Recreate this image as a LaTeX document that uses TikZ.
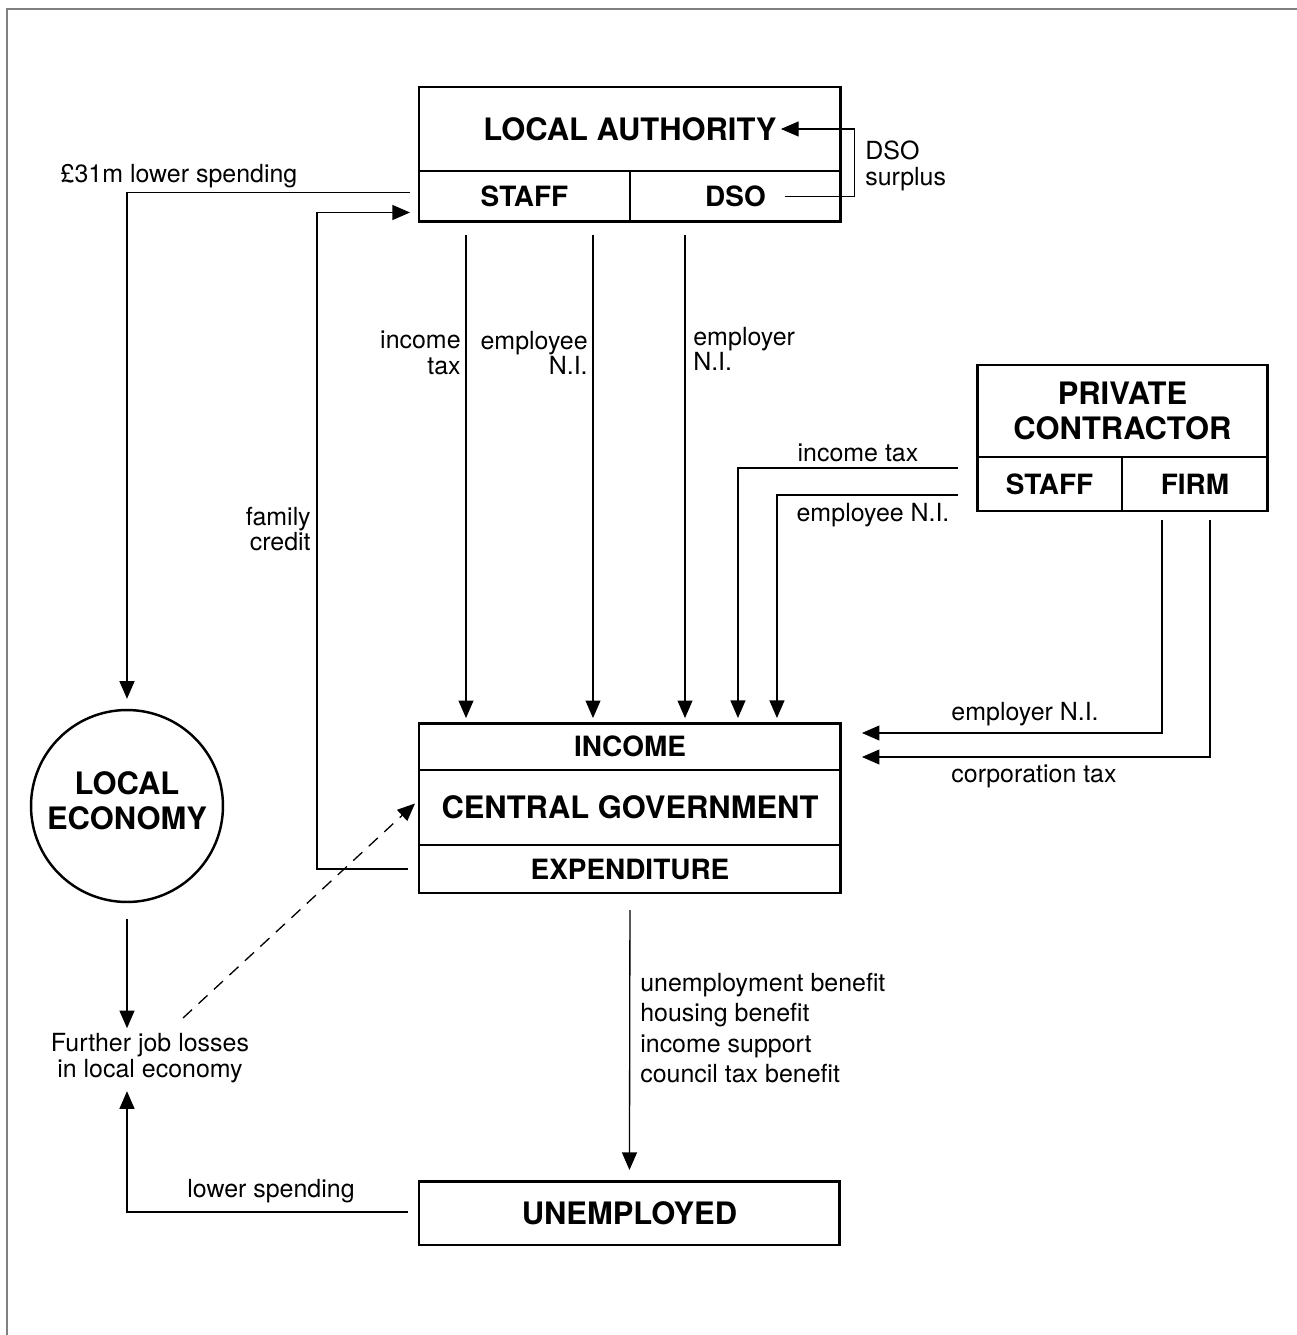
\documentclass[tikz,border=0pt]{standalone}
\usepackage{fontspec}
\setmainfont{TeX Gyre Heros}
\usetikzlibrary{arrows.meta,calc}

\newcommand{\bigbold}{\fontsize{17.6}{19.8}\selectfont\bfseries}
\newcommand{\midbold}{\fontsize{15.9}{17}\selectfont\bfseries}
\newcommand{\regtext}{\fontsize{14.2}{14.6}\selectfont}

\tikzset{
  cell/.style={draw, line width=0.8pt, inner sep=0pt, outer sep=0pt, anchor=north west},
  frame/.style={draw, line width=1.7pt},
  arr/.style={-{Triangle[length=10pt,width=8.5pt]}, line width=0.75pt},
  lbl/.style={font=\regtext, inner sep=0pt}
}

\begin{document}
\begin{tikzpicture}[x=0.02cm, y=-0.02cm]
    \useasboundingbox (0,0) rectangle (1297,1335);
    % page frame
    \draw[gray, line width=1.2pt] (1297,9) -- (7,9) -- (7,1335);

    % Local authority
    \node[cell, minimum width=8.44cm, minimum height=1.68cm, font=\bigbold] (la) at (419,87) {LOCAL AUTHORITY};
    \node[cell, minimum width=4.22cm, minimum height=1.02cm, font=\midbold] (lastaff) at (419,171) {STAFF};
    \node[cell, minimum width=4.22cm, minimum height=1.02cm, font=\midbold] (ladso) at (630,171) {DSO};
    \draw[frame] (la.north west) rectangle (ladso.south east);

    % Private contractor
    \node[cell, minimum width=5.82cm, minimum height=1.84cm, font=\bigbold, align=center] (pctop) at (977,365) {PRIVATE\\CONTRACTOR};
    \node[cell, minimum width=2.9cm, minimum height=1.08cm, font=\midbold] (pcstaff) at (977,457) {STAFF};
    \node[cell, minimum width=2.92cm, minimum height=1.08cm, font=\midbold] (pcfirm) at (1122,457) {FIRM};
    \draw[frame] (pctop.north west) rectangle (pcfirm.south east);

    % Central government
    \node[cell, minimum width=8.44cm, minimum height=0.94cm, font=\midbold] (cgin) at (419,723) {INCOME};
    \node[cell, minimum width=8.44cm, minimum height=1.5cm, font=\bigbold, text depth=0pt] (cgmain) at (419,770) {CENTRAL GOVERNMENT};
    \node[cell, minimum width=8.44cm, minimum height=0.96cm, font=\midbold] (cgout) at (419,845) {EXPENDITURE};
    \draw[frame] (cgin.north west) rectangle (cgout.south east);

    % Unemployed
    \node[cell, frame, minimum width=8.42cm, minimum height=1.28cm, font=\bigbold] (unemp) at (419,1181) {UNEMPLOYED};

    % Local economy
    \node[circle, draw, line width=1.4pt, minimum size=3.84cm, inner sep=0pt] (econ) at (127,806) {};
    \node[align=center, font=\bigbold, inner sep=0pt] (econtxt) at ($(econ.center)+(0,-5)$) {LOCAL\\ECONOMY};
    \node[lbl, align=center] (jobloss) at (150,1058) {Further job losses\\in local economy};

    % DSO surplus loop
    \draw[arr, line width=0.6pt] ($(ladso.center)+(50,0)$) -| ($(la.east)+(14,0)$) -- ($(la.center)+(151,0)$);
    \node[lbl, anchor=west, align=left] (dsolbl) at (865,166) {DSO\\surplus};

    % lower spending of staff
    \draw[arr] ($(lastaff.west)+(-9,-4)$) -| ($(econ.north)+(0,-10)$);
    \node[lbl] (lowerlbl) at (179,176) {£31m lower spending};

    % family credit
    \draw[arr] ($(cgout.west)+(-11,0)$) -- ++(-91,0) |- ($(lastaff.west)+(-9,16)$);
    \node[lbl, anchor=east, align=right] (fclbl) at (311,529) {family\\credit};

    % taxes from local authority
    \foreach \x/\nm in {466/a,593/b,685/c} {
        \coordinate (drop\nm) at (\x,235);
        \draw[arr, shorten >=2.8pt] (drop\nm) -- (drop\nm |- cgin.north);
    }
    \node[lbl, anchor=east, align=right] (itlbl) at (461,353) {income\\tax};
    \node[lbl, anchor=east, align=right] (eelbl) at (588,353) {employee\\N.I.};
    \node[lbl, anchor=west, align=left] (erlbl) at (693,349) {employer\\N.I.};

    % taxes from private contractor
    \draw[arr] ($(pcstaff.west)+(-19,-16)$) -| ($(cgin.north)+(108,-5)$);
    \draw[arr] ($(pcstaff.west)+(-19,11)$) -| ($(cgin.north)+(147,-5)$);
    \node[lbl] (pitlbl) at (858,453) {income tax};
    \node[lbl] (peelbl) at (873,515) {employee N.I.};
    \draw[arr] ($(pcfirm.south)+(-33,9)$) |- ($(cgin.east)+(21,-13.5)$);
    \draw[arr] ($(pcfirm.south)+(15,9)$) |- ($(cgin.east)+(21,10.5)$);
    \node[lbl] (perlbl) at (1025,714) {employer N.I.};
    \node[lbl] (ctlbl) at (1034,776) {corporation tax};

    % benefits
    \draw[arr] ($(cgout.south)+(0,17)$) -- ($(unemp.north)+(0,-11)$);
    \node[lbl, anchor=west, align=left, font=\fontsize{14.2}{17.2}\selectfont] (benlbl) at (640,1028)
        {unemployment benefit\\housing benefit\\income support\\council tax benefit};

    % knock-on effects
    \draw[arr] ($(unemp.west)+(-11,-1)$) -| ($(econ.south)+(0,188)$);
    \node[lbl] (lslbl) at (271,1191) {lower spending};
    \draw[arr] ($(econ.south)+(0,16)$) -- ($(econ.south)+(0,125)$);
    \draw[arr, dashed, dash pattern=on 7pt off 5pt] ($(jobloss.center)+(33,-40)$) -- ($(cgmain.west)+(-4,-4)$);
\end{tikzpicture}
\end{document}
